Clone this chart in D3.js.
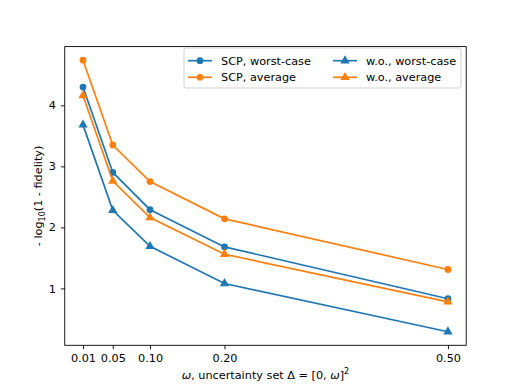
<!DOCTYPE html>
<html><head><meta charset="utf-8">
<script src="https://cdn.jsdelivr.net/npm/d3@7"></script>
<style>body{margin:0;background:#fff}text{font-family:"DejaVu Sans",sans-serif}</style>
</head><body>
<script>
const omegas = [0.01, 0.05, 0.10, 0.20, 0.50];
const xTickLabels = ["0.01", "0.05", "0.10", "0.20", "0.50"];
const yTicks = [1, 2, 3, 4];
const scpWorst = [4.30, 2.90, 2.29, 1.68, 0.83];
const scpAvg = [4.74, 3.35, 2.75, 2.14, 1.31];
const woWorst = [3.68, 2.28, 1.69, 1.08, 0.29];
const woAvg = [4.16, 2.76, 2.16, 1.56, 0.78];
const seriesNames = ["SCP, worst-case", "SCP, average", "w.o., worst-case", "w.o., average"];

const blue = "#1f77b4", orange = "#ff7f0e";
const series = [
  {name: seriesNames[0], vals: scpWorst, color: blue, marker: "circle"},
  {name: seriesNames[1], vals: scpAvg, color: orange, marker: "circle"},
  {name: seriesNames[2], vals: woWorst, color: blue, marker: "triangle"},
  {name: seriesNames[3], vals: woAvg, color: orange, marker: "triangle"}
];

const W = 518, H = 388;
const L = 64.75, R = 466.2, T = 46.6, B = 345.3;
const svg = d3.select("body").append("svg").attr("width", W).attr("height", H);

const all = [].concat(scpWorst, scpAvg, woWorst, woAvg);
const ymin = d3.min(all), ymax = d3.max(all);
const yp = (ymax - ymin) * 0.05;
const xmin = d3.min(omegas), xmax = d3.max(omegas), xpd = (xmax - xmin) * 0.05;
const x = d3.scaleLinear().domain([xmin - xpd, xmax + xpd]).range([L, R]);
const y = d3.scaleLinear().domain([ymin - yp, ymax + yp]).range([B, T]);

const fs = 11.25;
const xAxis = d3.axisBottom(x).tickValues(omegas).tickFormat((d, i) => xTickLabels[i]).tickSize(3.9).tickPadding(4.9);
const yAxis = d3.axisLeft(y).tickValues(yTicks).tickFormat(d3.format("d")).tickSize(3.9).tickPadding(4.9);
const gx = svg.append("g").attr("transform", `translate(0,${B})`).call(xAxis);
const gy = svg.append("g").attr("transform", `translate(${L},0)`).call(yAxis);
[gx, gy].forEach(g => {
  g.select(".domain").remove();
  g.selectAll("line").attr("stroke", "#000").attr("stroke-width", 0.9);
  g.selectAll("text").attr("font-size", fs).attr("fill", "#000").attr("font-family", "DejaVu Sans");
});

const line = d3.line().x((d, i) => x(omegas[i])).y(d => y(d));
const tri = d3.symbol().type(d3.symbolTriangle).size(38);
series.forEach(s => {
  svg.append("path").attr("d", line(s.vals)).attr("fill", "none").attr("stroke", s.color).attr("stroke-width", 1.7);
  s.vals.forEach((v, i) => {
    if (s.marker === "circle") {
      svg.append("circle").attr("cx", x(omegas[i])).attr("cy", y(v)).attr("r", 3.4).attr("fill", s.color);
    } else {
      svg.append("path").attr("d", tri()).attr("transform", `translate(${x(omegas[i])},${y(v)})`).attr("fill", s.color);
    }
  });
});

svg.append("rect").attr("x", L).attr("y", T).attr("width", R - L).attr("height", B - T)
  .attr("fill", "none").attr("stroke", "#000").attr("stroke-width", 0.9);

// legend
const lg = svg.append("g");
lg.append("rect").attr("x", 184).attr("y", 48).attr("width", 277).attr("height", 40).attr("rx", 2)
  .attr("fill", "#fff").attr("fill-opacity", 0.8).attr("stroke", "#ccc").attr("stroke-width", 0.9);
const pos = [[188, 60.7], [188, 77.3], [333, 60.7], [333, 77.3]];
series.forEach((s, i) => {
  const [lx, ly] = pos[i];
  lg.append("line").attr("x1", lx).attr("x2", lx + 24).attr("y1", ly).attr("y2", ly).attr("stroke", s.color).attr("stroke-width", 1.7);
  if (s.marker === "circle") lg.append("circle").attr("cx", lx + 12).attr("cy", ly).attr("r", 3.4).attr("fill", s.color);
  else lg.append("path").attr("d", tri()).attr("transform", `translate(${lx + 12},${ly})`).attr("fill", s.color);
  lg.append("text").attr("x", lx + 33).attr("y", ly).attr("dy", "0.35em").attr("font-size", fs).text(s.name);
});

// axis labels
const xl = svg.append("text").attr("x", (L + R) / 2).attr("y", 379).attr("text-anchor", "middle").attr("font-size", fs);
xl.append("tspan").attr("font-style", "italic").text("ω");
xl.append("tspan").text(", uncertainty set Δ = [0, ");
xl.append("tspan").attr("font-style", "italic").text("ω");
xl.append("tspan").text("]");
xl.append("tspan").attr("font-size", 8).attr("dy", -5).text("2");

const yl = svg.append("text").attr("transform", `translate(42,${(T + B) / 2}) rotate(-90)`).attr("text-anchor", "middle").attr("font-size", fs);
yl.append("tspan").text("- log");
yl.append("tspan").attr("font-size", 8).attr("dy", 3).text("10");
yl.append("tspan").attr("dy", -3).text("(1 - fidelity)");
</script>
</body></html>
